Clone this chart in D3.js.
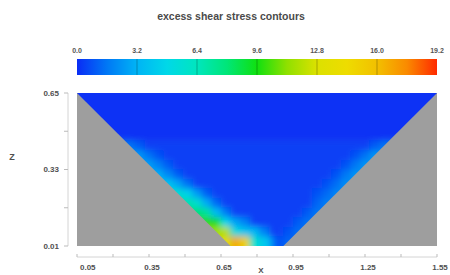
<!DOCTYPE html>
<html>
<head>
<meta charset="utf-8">
<script src="https://cdn.jsdelivr.net/npm/d3@7"></script>
<style>
  body { margin: 0; background: #fff; }
  svg { display: block; font-family: "Liberation Sans", Arial, sans-serif; }
</style>
</head>
<body>
<div id="chart"></div>
<script>
const title = "excess shear stress contours";
const xLabel = "X", zLabel = "Z";

// colour bar
const cbTicks  = [0.0, 3.2, 6.4, 9.6, 12.8, 16.0, 19.2];
const cbStops  = [0, 1.6, 3.2, 4.8, 6.4, 8.0, 9.6, 11.2, 12.8, 14.4, 16.0, 17.6, 19.2];
const cbColors = ["#0a2cf5", "#0078f5", "#00b4f5", "#00d8e8", "#00e6be", "#00e678", "#10e010",
                  "#90e000", "#dce100", "#eedc00", "#f2c000", "#fa8a00", "#ff2a00"];

// axes
const xTicks = [0.05, 0.35, 0.65, 0.95, 1.25, 1.55];
const xMinor = [0.2, 0.5, 0.8, 1.1, 1.4];
const zTicks = [0.65, 0.33, 0.01];
const zMinor = [0.49, 0.17];

// channel cross-section (trapezoid)
const bankX = [0.05, 0.69, 0.91, 1.55];
const bankZ = [0.65, 0.01, 0.01, 0.65];

// background stress bands
const bandTop    = [0.70, 0.45];
const bandBottom = [0.45, -0.04];
const bandValue  = [0.12, 0.4];

// excess shear stress, cells of 0.04 x 0.04
const cellZ = [
  0.43,0.43,0.43,0.43,0.43,0.43,
  0.39,0.39,0.39,0.39,0.39,0.39,0.39,0.39,
  0.35,0.35,0.35,0.35,0.35,0.35,0.35,0.35,
  0.31,0.31,0.31,0.31,0.31,0.31,0.31,0.31,
  0.27,0.27,0.27,0.27,0.27,0.27,0.27,0.27,
  0.23,0.23,0.23,0.23,0.23,0.23,0.23,0.23,0.23,
  0.19,0.19,0.19,0.19,0.19,0.19,0.19,0.19,
  0.15,0.15,0.15,0.15,0.15,0.15,0.15,0.15,
  0.11,0.11,0.11,0.11,0.11,0.11,0.11,0.11,0.11,
  0.07,0.07,0.07,0.07,0.07,0.07,0.07,0.07,0.07,0.07,
  0.03,0.03,0.03,0.03,0.03,0.03,0.03,0.03,0.03,0.03
];
const cellX = [
  0.23,0.27,0.31,1.29,1.33,1.37,
  0.27,0.31,0.35,0.39,1.21,1.25,1.29,1.33,
  0.31,0.35,0.39,0.43,1.17,1.21,1.25,1.29,
  0.35,0.39,0.43,0.47,1.13,1.17,1.21,1.25,
  0.39,0.43,0.47,0.51,1.09,1.13,1.17,1.21,
  0.43,0.47,0.51,0.55,0.59,1.05,1.09,1.13,1.17,
  0.47,0.51,0.55,0.59,0.63,1.05,1.09,1.13,
  0.51,0.55,0.59,0.63,0.67,1.01,1.05,1.09,
  0.55,0.59,0.63,0.67,0.71,0.75,0.97,1.01,1.05,
  0.59,0.63,0.67,0.71,0.75,0.79,0.83,0.93,0.97,1.01,
  0.63,0.67,0.71,0.75,0.79,0.83,0.87,0.89,0.93,0.97
];
const cellV = [
  1.5,1.5,1.0,1.0,1.5,1.5,
  2.4,2.4,1.5,0.8,0.8,1.5,2.4,2.4,
  2.6,2.6,1.8,1.0,0.8,1.6,2.4,2.4,
  3.0,3.0,2.0,1.0,0.8,1.6,2.4,2.4,
  3.8,3.8,2.8,1.5,0.8,1.4,2.2,2.2,
  5.6,5.6,4.6,2.6,1.1,0.8,1.3,2.0,2.0,
  6.8,6.8,5.8,3.0,1.3,1.2,1.8,1.8,
  8.0,8.0,7.2,3.6,1.7,1.0,1.6,1.6,
  9.8,9.8,9.4,4.8,2.8,1.9,1.0,1.5,1.5,
  11.5,11.5,12,5.2,4.0,3.4,1.9,0.8,1.4,1.4,
  13,13.5,16.5,15,5.8,4.2,2.3,0.8,1.2,1.2
];

const W = 450, H = 275;
const svg = d3.select("#chart").append("svg").attr("width", W).attr("height", H);

const color = d3.scaleLinear().domain(cbStops).range(cbColors).clamp(true);
const x = d3.scaleLinear().domain([0.05, 1.55]).range([77, 437]);
const z = d3.scaleLinear().domain([0.01, 0.65]).range([246, 93]);
const cb = d3.scaleLinear().domain([0, 19.2]).range([77, 437]);

// title
svg.append("text").attr("x", 231).attr("y", 20).attr("text-anchor", "middle")
   .attr("font-size", "10.5px").attr("font-weight", "bold").attr("fill", "#4a4a4a").text(title);

// colour bar
const defs = svg.append("defs");
const grad = defs.append("linearGradient").attr("id", "cbgrad");
cbStops.forEach((s, i) => {
  grad.append("stop").attr("offset", (s / 19.2 * 100) + "%").attr("stop-color", cbColors[i]);
});
svg.append("rect").attr("x", cb(0)).attr("y", 59).attr("width", cb(19.2) - cb(0)).attr("height", 16)
   .attr("fill", "url(#cbgrad)");
cbTicks.slice(1, -1).forEach(t => {
  svg.append("line").attr("x1", cb(t)).attr("x2", cb(t)).attr("y1", 59).attr("y2", 75)
     .attr("stroke", "rgba(0,0,0,0.25)").attr("stroke-width", 1);
});
cbTicks.forEach(t => {
  svg.append("text").attr("x", cb(t)).attr("y", 53).attr("text-anchor", "middle")
     .attr("font-size", "7px").attr("font-weight", "bold").attr("fill", "#555").text(t.toFixed(1));
});

// plot background (bed / banks)
svg.append("rect").attr("x", x(0.05)).attr("y", z(0.65)).attr("width", x(1.55) - x(0.05))
   .attr("height", z(0.01) - z(0.65)).attr("fill", "#9e9e9e");

// channel clip
const chan = bankX.map((v, i) => [x(v), z(bankZ[i])]);
defs.append("clipPath").attr("id", "chan").append("polygon").attr("points", chan.map(p => p.join(",")).join(" "));
defs.append("filter").attr("id", "soft").attr("x", "-10%").attr("y", "-10%").attr("width", "120%").attr("height", "120%")
    .append("feGaussianBlur").attr("stdDeviation", 3);

const field = svg.append("g").attr("clip-path", "url(#chan)").append("g").attr("filter", "url(#soft)");
bandTop.forEach((t, i) => {
  field.append("rect").attr("x", x(0.0)).attr("width", x(1.6) - x(0.0))
       .attr("y", z(t)).attr("height", z(bandBottom[i]) - z(t)).attr("fill", color(bandValue[i]));
});
cellV.forEach((v, i) => {
  const top = cellZ[i] + 0.02;
  const bot = cellZ[i] - 0.02 <= 0.011 ? -0.04 : cellZ[i] - 0.02;
  field.append("rect").attr("x", x(cellX[i] - 0.02)).attr("width", x(cellX[i] + 0.02) - x(cellX[i] - 0.02))
       .attr("y", z(top)).attr("height", z(bot) - z(top)).attr("fill", color(v));
});

// z axis
svg.append("line").attr("x1", 68).attr("x2", 68).attr("y1", z(0.65)).attr("y2", z(0.01))
   .attr("stroke", "#d4d4d4").attr("stroke-width", 1);
zTicks.concat(zMinor).forEach(t => {
  svg.append("line").attr("x1", 64).attr("x2", 68).attr("y1", z(t)).attr("y2", z(t))
     .attr("stroke", "#bbb").attr("stroke-width", 1);
});
zTicks.forEach(t => {
  svg.append("text").attr("x", 59).attr("y", z(t)).attr("dy", "0.35em").attr("text-anchor", "end")
     .attr("font-size", "8px").attr("font-weight", "bold").attr("fill", "#505050").text(t.toFixed(2));
});
svg.append("text").attr("x", 12).attr("y", 157).attr("dy", "0.35em").attr("text-anchor", "middle")
   .attr("font-size", "9px").attr("font-weight", "bold").attr("fill", "#505050").text(zLabel);

// x axis
svg.append("line").attr("x1", x(0.05)).attr("x2", x(1.55)).attr("y1", 257).attr("y2", 257)
   .attr("stroke", "#d4d4d4").attr("stroke-width", 1);
xTicks.concat(xMinor).forEach(t => {
  svg.append("line").attr("x1", x(t)).attr("x2", x(t)).attr("y1", 254).attr("y2", 257)
     .attr("stroke", "#bbb").attr("stroke-width", 1);
});
xTicks.forEach((t, i) => {
  svg.append("text").attr("x", x(t) + 3).attr("y", 270)
     .attr("text-anchor", i === 0 ? "start" : "middle")
     .attr("font-size", "8px").attr("font-weight", "bold").attr("fill", "#505050").text(t.toFixed(2));
});
svg.append("text").attr("x", 261).attr("y", 273).attr("text-anchor", "middle")
   .attr("font-size", "8px").attr("font-weight", "bold").attr("fill", "#505050").text(xLabel);
</script>
</body>
</html>
